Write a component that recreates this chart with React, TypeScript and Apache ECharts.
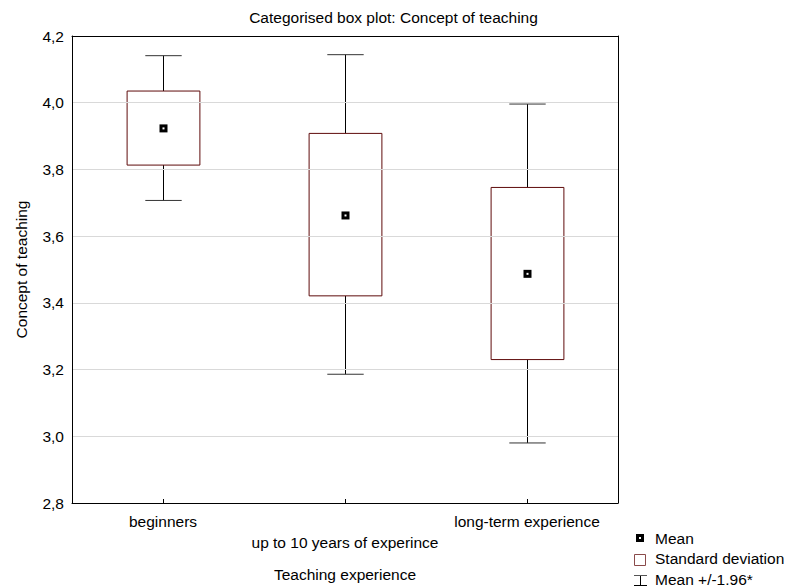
import React, { useEffect, useRef } from "react";
import * as echarts from "echarts";

const categories = ["beginners", "up to 10 years of experince", "long-term experience"];
const means = [3.923, 3.662, 3.487];
const sdLow = [3.813, 3.421, 3.230];
const sdHigh = [4.035, 3.908, 3.746];
const ciLow = [3.707, 3.186, 2.980];
const ciHigh = [4.141, 4.144, 3.996];
const yTicks = { min: 2.8, max: 4.2, interval: 0.2 };

const FONT = "Liberation Sans";
const FS = 15.5;
const BOX_COLOR = "#5e0b0b";

export default function App() {
  const ref = useRef<HTMLDivElement>(null);
  useEffect(() => {
    if (!ref.current) return;
    const chart = echarts.init(ref.current, null, { renderer: "svg" });
    const data = categories.map((_, i) => [i, ciLow[i], sdLow[i], means[i], sdHigh[i], ciHigh[i]]);
    const option: any = {
      animation: false,
      backgroundColor: "#fff",
      textStyle: { fontFamily: FONT },
      title: {
        text: "Categorised box plot: Concept of teaching",
        left: "center",
        top: 4,
        textStyle: { fontFamily: FONT, fontSize: FS, fontWeight: "normal", color: "#000" },
      },
      grid: { left: 72, top: 36, width: 546, height: 468, containLabel: false },
      xAxis: [
        {
          type: "category",
          data: categories,
          position: "bottom",
          axisLine: { show: true, lineStyle: { color: "#000", width: 1 } },
          axisTick: { show: true, inside: true, length: 4, alignWithLabel: true, lineStyle: { color: "#000" } },
          axisLabel: {
            color: "#000",
            fontSize: FS,
            fontFamily: FONT,
            margin: 8,
            lineHeight: 21,
            interval: 0,
            formatter: (v: string, i: number) => (i % 2 === 1 ? "\n" + v : v),
          },
          name: "Teaching experience",
          nameLocation: "middle",
          nameGap: 63,
          nameTextStyle: { color: "#000", fontSize: FS, fontFamily: FONT },
          z: 5,
        },
        {
          type: "category",
          data: categories,
          position: "top",
          axisLine: { show: true, lineStyle: { color: "#000", width: 1 } },
          axisTick: { show: false },
          axisLabel: { show: false },
          z: 5,
        },
      ],
      yAxis: [
        {
          type: "value",
          min: yTicks.min,
          max: yTicks.max,
          interval: yTicks.interval,
          axisLine: { show: true, lineStyle: { color: "#000", width: 1 } },
          axisTick: { show: false },
          axisLabel: {
            color: "#000",
            fontSize: FS,
            fontFamily: FONT,
            margin: 8,
            formatter: (v: number) => v.toFixed(1).replace(".", ","),
          },
          splitLine: { show: true, lineStyle: { color: "#d9d9d9", width: 1 } },
          name: "Concept of teaching",
          nameLocation: "middle",
          nameGap: 43,
          nameTextStyle: { color: "#000", fontSize: FS, fontFamily: FONT },
          z: 5,
        },
        {
          type: "value",
          min: yTicks.min,
          max: yTicks.max,
          interval: yTicks.interval,
          position: "right",
          axisLine: { show: true, lineStyle: { color: "#000", width: 1 } },
          axisTick: { show: false },
          axisLabel: { show: false },
          splitLine: { show: false },
          z: 5,
        },
      ],
      series: [
        {
          type: "custom",
          xAxisIndex: 0,
          yAxisIndex: 0,
          data,
          encode: { x: 0, y: [1, 2, 3, 4, 5] },
          z: 3,
          renderItem: (params: any, api: any) => {
            const xi = api.value(0);
            const band = api.size([1, 0])[0];
            const boxW = band * 0.4;
            const capW = band * 0.2;
            const pLo = api.coord([xi, api.value(1)]);
            const pSdLo = api.coord([xi, api.value(2)]);
            const pMean = api.coord([xi, api.value(3)]);
            const pSdHi = api.coord([xi, api.value(4)]);
            const pHi = api.coord([xi, api.value(5)]);
            const cx = Math.round(pMean[0]) + 0.5;
            const lineStyle = { stroke: "#000", lineWidth: 1 };
            return {
              type: "group",
              children: [
                { type: "line", shape: { x1: cx, y1: pHi[1], x2: cx, y2: pSdHi[1] }, style: lineStyle },
                { type: "line", shape: { x1: cx, y1: pSdLo[1], x2: cx, y2: pLo[1] }, style: lineStyle },
                { type: "line", shape: { x1: cx - capW / 2, y1: pHi[1], x2: cx + capW / 2, y2: pHi[1] }, style: { stroke: "#333", lineWidth: 1 } },
                { type: "line", shape: { x1: cx - capW / 2, y1: pLo[1], x2: cx + capW / 2, y2: pLo[1] }, style: { stroke: "#333", lineWidth: 1 } },
                {
                  type: "rect",
                  shape: { x: cx - boxW / 2, y: pSdHi[1], width: boxW, height: pSdLo[1] - pSdHi[1] },
                  style: { fill: "#fff", stroke: BOX_COLOR, lineWidth: 1 },
                },
                { type: "rect", shape: { x: cx - 4, y: pMean[1] - 4, width: 8, height: 8 }, style: { fill: "#000" } },
                { type: "rect", shape: { x: cx - 1, y: pMean[1] - 1, width: 2, height: 2 }, style: { fill: "#fff" } },
              ],
            };
          },
        },
      ],
      graphic: [
        { type: "rect", left: 636, top: 534, shape: { width: 8, height: 8 }, style: { fill: "#000" } },
        { type: "rect", left: 639, top: 537, shape: { width: 2, height: 2 }, style: { fill: "#fff" }, z: 101 },
        { type: "text", left: 655, top: 530, style: { text: "Mean", fill: "#000", font: `${FS}px ${FONT}` } },
        { type: "rect", left: 634, top: 554, shape: { width: 11, height: 11 }, style: { fill: "#fff", stroke: "#8a4a4a", lineWidth: 1 } },
        { type: "text", left: 655, top: 550, style: { text: "Standard deviation", fill: "#000", font: `${FS}px ${FONT}` } },
        { type: "line", shape: { x1: 640.5, y1: 575, x2: 640.5, y2: 586 }, style: { stroke: "#000", lineWidth: 1 } },
        { type: "line", shape: { x1: 634, y1: 575.5, x2: 647, y2: 575.5 }, style: { stroke: "#555", lineWidth: 1 } },
        { type: "line", shape: { x1: 634, y1: 585.5, x2: 647, y2: 585.5 }, style: { stroke: "#000", lineWidth: 1 } },
        { type: "text", left: 655, top: 571, style: { text: "Mean +/-1.96*", fill: "#000", font: `${FS}px ${FONT}` } },
      ],
    };
    chart.setOption(option);
    return () => chart.dispose();
  }, []);
  return (
    <div
      ref={ref}
      style={{ position: "fixed", left: 0, top: 0, width: 787, height: 587, background: "#fff" }}
    />
  );
}
